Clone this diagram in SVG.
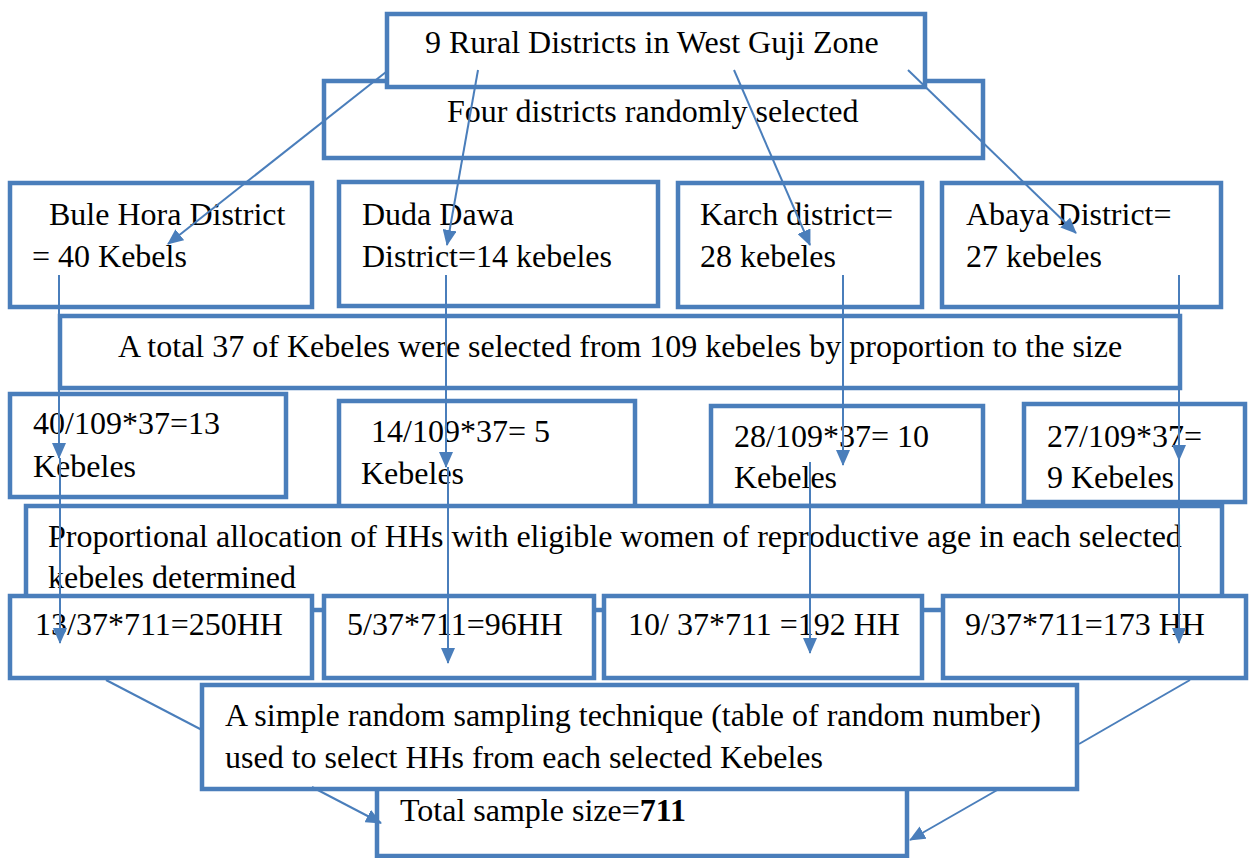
<svg xmlns="http://www.w3.org/2000/svg" width="1249" height="858" viewBox="0 0 1249 858">
<defs>
<style>
.b{fill:#fff;stroke:#4a7ebb;stroke-width:4.5}
.t{font-family:"Liberation Serif","Times New Roman",serif;font-size:32px;fill:#000}
.c{fill:none;stroke:#4a7ebb;stroke-width:2}
.a{marker-end:url(#ah)}
</style>
<marker id="ah" markerUnits="userSpaceOnUse" markerWidth="16" markerHeight="14" refX="15" refY="7" orient="auto">
<path d="M0,0 L16,7 L0,14 Z" fill="#4a7ebb"/>
</marker>
</defs>
<rect width="1249" height="858" fill="#fff"/>
<g id="n-four"><rect class="b" x="324" y="81" width="659" height="77"/><text class="t" x="447" y="122">Four districts randomly selected</text></g>
<g id="n-zone"><rect class="b" x="387" y="14" width="538" height="73"/><text class="t" x="425" y="53">9 Rural Districts in West Guji Zone</text></g>
<g id="n-bule"><rect class="b" x="10" y="183" width="302" height="124"/><text class="t" x="49" y="225">Bule Hora District</text><text class="t" x="32" y="267">= 40 Kebels</text></g>
<g id="n-duda"><rect class="b" x="339" y="182" width="319" height="124"/><text class="t" x="362" y="225">Duda Dawa</text><text class="t" x="362" y="267">District=14 kebeles</text></g>
<g id="n-karch"><rect class="b" x="678" y="183" width="244" height="124"/><text class="t" x="700" y="225">Karch district=</text><text class="t" x="700" y="267">28 kebeles</text></g>
<g id="n-abaya"><rect class="b" x="942" y="183" width="279" height="124"/><text class="t" x="966" y="225">Abaya District=</text><text class="t" x="966" y="267">27 kebeles</text></g>
<g id="n-total37"><rect class="b" x="60" y="316" width="1120" height="72"/><text class="t" x="118" y="357">A total 37 of Kebeles were selected from 109 kebeles by proportion to the size</text></g>
<g id="n-c40"><rect class="b" x="10" y="394" width="276" height="103"/><text class="t" x="33" y="434">40/109*37=13</text><text class="t" x="33" y="477">Kebeles</text></g>
<g id="n-c14"><rect class="b" x="339" y="401" width="296" height="110"/><text class="t" x="371" y="442">14/109*37= 5</text><text class="t" x="361" y="484">Kebeles</text></g>
<g id="n-c28"><rect class="b" x="711" y="406" width="272" height="100"/><text class="t" x="734" y="447">28/109*37= 10</text><text class="t" x="734" y="488">Kebeles</text></g>
<g id="n-c27"><rect class="b" x="1024" y="404" width="221" height="98"/><text class="t" x="1047" y="447">27/109*37=</text><text class="t" x="1047" y="488">9 Kebeles</text></g>
<g id="n-prop"><rect class="b" x="26" y="506" width="1196" height="104"/><text class="t" x="48" y="547">Proportional allocation of HHs with eligible women of reproductive age in each selected</text><text class="t" x="48" y="588">kebeles determined</text></g>
<g id="n-h13"><rect class="b" x="10" y="596" width="302" height="82"/><text class="t" x="35" y="635">13/37*711=250HH</text></g>
<g id="n-h5"><rect class="b" x="324" y="596" width="270" height="82"/><text class="t" x="347" y="635">5/37*711=96HH</text></g>
<g id="n-h10"><rect class="b" x="604" y="596" width="318" height="82"/><text class="t" x="628" y="635">10/ 37*711 =192 HH</text></g>
<g id="n-h9"><rect class="b" x="943" y="596" width="303" height="82"/><text class="t" x="965" y="635">9/37*711=173 HH</text></g>
<g id="n-total"><rect class="b" x="377" y="760" width="530" height="96"/><text class="t" x="400" y="821">Total sample size=<tspan font-weight="bold">711</tspan></text></g>
<g id="n-random"><rect class="b" x="202" y="685" width="875" height="104"/><text class="t" x="225" y="726">A simple random sampling technique (table of random number)</text><text class="t" x="225" y="768">used to select HHs from each selected Kebeles</text></g>
<g id="connectors">
<line class="c a" x1="386" y1="72" x2="168" y2="244"/>
<line class="c a" x1="478" y1="70" x2="447" y2="245"/>
<line class="c a" x1="734" y1="70" x2="810" y2="245"/>
<line class="c a" x1="908" y1="70" x2="1076" y2="233"/>
<line class="c a" x1="59" y1="275" x2="59" y2="458"/>
<line class="c a" x1="60" y1="458" x2="60" y2="643"/>
<line class="c a" x1="446" y1="275" x2="446" y2="467"/>
<line class="c a" x1="448" y1="467" x2="448" y2="663"/>
<line class="c a" x1="843" y1="275" x2="843" y2="465"/>
<line class="c a" x1="810" y1="462" x2="810" y2="653"/>
<line class="c a" x1="1179" y1="275" x2="1179" y2="460"/>
<line class="c a" x1="1179" y1="460" x2="1179" y2="643"/>
<line class="c" x1="106" y1="680" x2="202" y2="730"/>
<line class="c a" x1="312" y1="787" x2="381" y2="823"/>
<line class="c" x1="1190" y1="680" x2="1079" y2="744"/>
<line class="c a" x1="999" y1="789" x2="910" y2="840"/>
</g>
</svg>
